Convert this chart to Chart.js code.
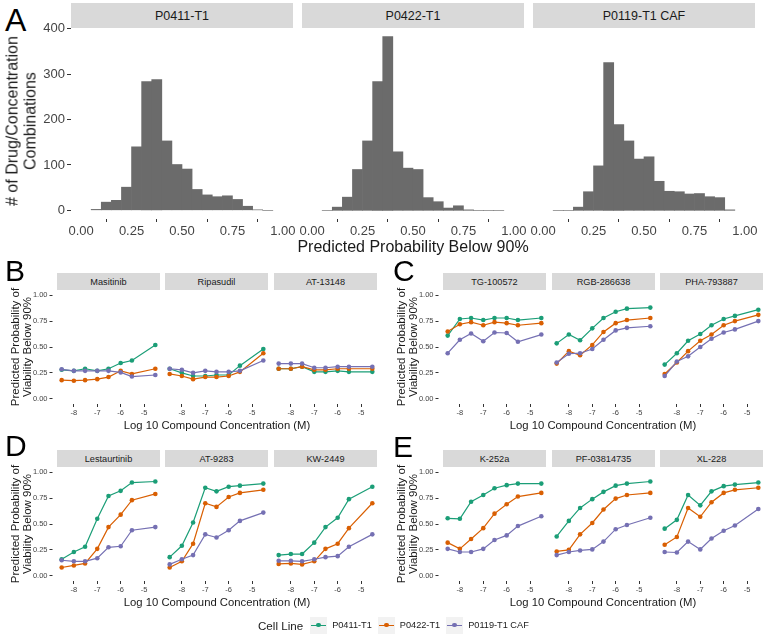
<!DOCTYPE html>
<html>
<head>
<meta charset="utf-8">
<script src="https://cdn.jsdelivr.net/npm/chart.js@4.4.1/dist/chart.umd.min.js"></script>
<style>
  body { margin:0; width:770px; height:639px; background:#fff; position:relative; overflow:hidden;
         font-family:"Liberation Sans", Arial, sans-serif; color:#1a1a1a; }
  .box { position:absolute; }
  .strip { position:absolute; background:#d9d9d9; display:flex; align-items:center; justify-content:center; white-space:nowrap; color:#1a1a1a; }
  .lab { position:absolute; white-space:nowrap; transform:translate(-50%,-50%); }
  .vlab { position:absolute; white-space:nowrap; text-align:center; transform:translate(-50%,-50%) rotate(-90deg); }
  .letter { position:absolute; line-height:1; color:#000; }
  .legend { position:absolute; display:flex; align-items:center; font-size:9.2px; color:#1a1a1a; }
  .key { width:17px; height:17px; background:#f2f2f2; position:relative; margin:0 5px 0 6px; }
  .key i { position:absolute; left:1px; right:1px; top:8px; height:1.2px; }
  .key b { position:absolute; left:6.2px; top:6.2px; width:4.6px; height:4.6px; border-radius:50%; }
</style>
</head>
<body>
<script>
// cell lines and colours
const cellLines = ["P0411-T1", "P0422-T1", "P0119-T1 CAF"];
const lineColors = ["#1B9E77", "#D95F02", "#7570B3"];

// Panel A: histogram bins (0.05 wide) and counts
const binMid = [0.075, 0.125, 0.175, 0.225, 0.275, 0.325, 0.375, 0.425, 0.475,
                0.525, 0.575, 0.625, 0.675, 0.725, 0.775, 0.825, 0.875, 0.925];
const countsP0411 = [2, 18, 22, 51, 140, 284, 288, 153, 101, 91, 46, 34, 30, 32, 24, 9, 1, 0];
const countsP0422 = [0, 7, 29, 90, 153, 284, 383, 129, 93, 90, 28, 19, 5, 10, 1, 0, 0, 0];
const countsP0119 = [0, 0, 7, 41, 98, 326, 189, 153, 113, 118, 64, 42, 41, 36, 37, 30, 28, 1];
const histXTicks = [0, 0.25, 0.5, 0.75, 1];
const histYTicks = [0, 100, 200, 300, 400];

// Panels B-E: log10 concentration and predicted probabilities
const logConc = [-8.52, -8, -7.52, -7, -6.52, -6, -5.52, -4.52];
const concTicks = [-8, -7, -6, -5];
const probTicks = [0, 0.25, 0.5, 0.75, 1];

// rows: P0411-T1, P0422-T1, P0119-T1 CAF
const masitinib = [[0.28, 0.27, 0.29, 0.27, 0.29, 0.345, 0.37, 0.52],
                   [0.18, 0.175, 0.18, 0.19, 0.21, 0.27, 0.24, 0.29],
                   [0.285, 0.27, 0.27, 0.27, 0.27, 0.255, 0.215, 0.23]];
const ripasudil = [[0.29, 0.25, 0.22, 0.22, 0.23, 0.23, 0.32, 0.48],
                   [0.24, 0.22, 0.19, 0.21, 0.21, 0.22, 0.26, 0.44],
                   [0.29, 0.28, 0.25, 0.27, 0.26, 0.26, 0.27, 0.37]];
const at13148 = [[0.29, 0.29, 0.31, 0.26, 0.26, 0.27, 0.26, 0.26],
                 [0.29, 0.29, 0.31, 0.28, 0.28, 0.29, 0.29, 0.29],
                 [0.34, 0.34, 0.34, 0.30, 0.30, 0.31, 0.31, 0.31]];
const tg100572 = [[0.61, 0.77, 0.78, 0.76, 0.78, 0.78, 0.76, 0.78],
                  [0.65, 0.72, 0.74, 0.71, 0.74, 0.73, 0.71, 0.73],
                  [0.44, 0.57, 0.63, 0.555, 0.64, 0.635, 0.55, 0.62]];
const rgb286638 = [[0.535, 0.62, 0.565, 0.68, 0.78, 0.84, 0.87, 0.88],
                   [0.34, 0.46, 0.42, 0.52, 0.645, 0.73, 0.76, 0.78],
                   [0.35, 0.435, 0.44, 0.48, 0.57, 0.66, 0.685, 0.70]];
const pha793887 = [[0.33, 0.44, 0.56, 0.625, 0.71, 0.77, 0.80, 0.86],
                   [0.24, 0.35, 0.46, 0.56, 0.62, 0.71, 0.75, 0.81],
                   [0.22, 0.36, 0.41, 0.50, 0.58, 0.64, 0.67, 0.75]];
const lestaurtinib = [[0.16, 0.23, 0.28, 0.55, 0.77, 0.82, 0.90, 0.91],
                      [0.08, 0.10, 0.12, 0.26, 0.47, 0.59, 0.73, 0.79],
                      [0.15, 0.14, 0.14, 0.17, 0.275, 0.285, 0.44, 0.47]];
const at9283 = [[0.18, 0.29, 0.515, 0.85, 0.815, 0.86, 0.87, 0.89],
                [0.08, 0.14, 0.31, 0.70, 0.665, 0.76, 0.80, 0.83],
                [0.11, 0.16, 0.20, 0.40, 0.37, 0.44, 0.53, 0.61]];
const kw2449 = [[0.20, 0.21, 0.21, 0.32, 0.47, 0.56, 0.74, 0.86],
                [0.115, 0.12, 0.11, 0.14, 0.26, 0.31, 0.46, 0.70],
                [0.145, 0.145, 0.14, 0.16, 0.18, 0.19, 0.28, 0.40]];
const k252a = [[0.555, 0.55, 0.715, 0.78, 0.845, 0.875, 0.89, 0.89],
               [0.32, 0.26, 0.355, 0.46, 0.60, 0.69, 0.765, 0.80],
               [0.26, 0.23, 0.23, 0.26, 0.345, 0.39, 0.48, 0.575]];
const pf03814735 = [[0.38, 0.53, 0.655, 0.74, 0.81, 0.87, 0.89, 0.91],
                    [0.235, 0.25, 0.40, 0.51, 0.64, 0.745, 0.78, 0.80],
                    [0.20, 0.23, 0.245, 0.255, 0.33, 0.45, 0.49, 0.56]];
const xl228 = [[0.455, 0.54, 0.78, 0.68, 0.815, 0.865, 0.88, 0.90],
               [0.30, 0.375, 0.655, 0.57, 0.71, 0.80, 0.83, 0.85],
               [0.23, 0.225, 0.33, 0.255, 0.36, 0.435, 0.485, 0.645]];

const FONT = '"Liberation Sans", Arial, sans-serif';

function addEl(cls, html, css) {
  const d = document.createElement('div');
  d.className = cls;
  d.innerHTML = html;
  d.style.cssText = css;
  document.body.appendChild(d);
  return d;
}

// one facet: chart area at (l,t) size w x h; yw = y axis width (0 = hidden), xh = x axis height
function facet(l, t, w, h, yw, xh, type, datasets, sx, sy) {
  const m = 6;
  const padL = yw || m;
  const W = w + padL + m, H = h + m + xh;
  const wrap = addEl('box', '', `left:${l - padL}px;top:${t - m}px;width:${W}px;height:${H}px`);
  const cv = document.createElement('canvas');
  cv.width = W; cv.height = H;
  wrap.appendChild(cv);
  const tickGrid = (len, dash, off) => ({
    drawOnChartArea: false, tickLength: len, tickColor: '#333', tickWidth: 1,
    tickBorderDash: dash, tickBorderDashOffset: off
  });
  new Chart(cv, {
    type: type,
    data: { datasets: datasets },
    options: {
      responsive: false, animation: false,
      layout: { padding: { left: yw ? 0 : m, right: m, top: m, bottom: 0 } },
      plugins: { legend: { display: false }, tooltip: { enabled: false } },
      scales: {
        x: {
          type: 'linear', min: sx.min, max: sx.max, offset: false,
          border: { display: false },
          grid: tickGrid(sx.tl, [], 0),
          afterBuildTicks: s => { s.ticks = sx.ticks.map(v => ({ value: v })); },
          afterFit: s => { s.height = xh; s.paddingLeft = 0; s.paddingRight = 0; },
          ticks: { autoSkip: false, maxRotation: 0, padding: sx.pad, color: '#444',
                   font: { size: sx.fs, family: FONT }, callback: sx.fmt }
        },
        y: {
          display: yw > 0, min: sy.min, max: sy.max,
          border: { display: false },
          grid: tickGrid(sy.tl, sy.dash, 0),
          afterBuildTicks: s => { s.ticks = sy.ticks.map(v => ({ value: v })); },
          afterFit: s => { s.width = yw; s.paddingTop = 0; s.paddingBottom = 0; },
          ticks: { padding: sy.pad, color: '#444', font: { size: sy.fs, family: FONT }, callback: sy.fmt }
        }
      }
    }
  });
}

// ---------- Panel A ----------
const histFacets = [
  { name: "P0411-T1", counts: countsP0411, left: 71 },
  { name: "P0422-T1", counts: countsP0422, left: 302 },
  { name: "P0119-T1 CAF", counts: countsP0119, left: 533 }
];
const ax = { min: -0.05, max: 1.05, ticks: histXTicks, tl: 3, pad: 2, fs: 13, fmt: v => v.toFixed(2) };
const ay = { min: -19.15, max: 402, ticks: histYTicks, tl: 4, pad: 2, fs: 13, dash: [], fmt: v => String(v) };
histFacets.forEach((f, i) => {
  addEl('strip', f.name, `left:${f.left}px;top:3px;width:222px;height:25px;font-size:12.5px`);
  facet(f.left, 28, 222, 191, i === 0 ? 40 : 0, 22, 'bar', [{
    data: binMid.map((x, k) => ({ x: x, y: f.counts[k] })),
    backgroundColor: '#6b6b6b', borderWidth: 0,
    barPercentage: 1, categoryPercentage: 1
  }], ax, ay);
});
addEl('letter', 'A', 'left:5px;top:4px;font-size:32px');
addEl('vlab', '# of Drug/Concentration<br>Combinations', 'left:21px;top:121px;font-size:16px;line-height:17.5px');
addEl('lab', 'Predicted Probability Below 90%', 'left:413px;top:247px;font-size:16px');

// ---------- Panels B-E ----------
const rows = [
  { letter: 'B', lx: 5, ly: 256, lefts: [57, 165, 274], top: 290, stripTop: 273,
    names: ["Masitinib", "Ripasudil", "AT-13148"], sets: [masitinib, ripasudil, at13148] },
  { letter: 'C', lx: 393, ly: 256, lefts: [443, 552, 660], top: 290, stripTop: 273,
    names: ["TG-100572", "RGB-286638", "PHA-793887"], sets: [tg100572, rgb286638, pha793887] },
  { letter: 'D', lx: 5, ly: 431, lefts: [57, 165, 274], top: 467, stripTop: 450,
    names: ["Lestaurtinib", "AT-9283", "KW-2449"], sets: [lestaurtinib, at9283, kw2449] },
  { letter: 'E', lx: 393, ly: 432, lefts: [443, 552, 660], top: 467, stripTop: 450,
    names: ["K-252a", "PF-03814735", "XL-228"], sets: [k252a, pf03814735, xl228] }
];
const lx = { min: -8.72, max: -4.32, ticks: concTicks, tl: 3, pad: 1.5, fs: 7.5, fmt: v => String(v) };
const ly = { min: -0.05, max: 1.05, ticks: probTicks, tl: 7.5, pad: 2, fs: 7.5, dash: [3, 10], fmt: v => v.toFixed(2) };

rows.forEach(r => {
  r.names.forEach((name, i) => {
    const l = r.lefts[i];
    addEl('strip', name, `left:${l}px;top:${r.stripTop}px;width:103px;height:17px;font-size:9.2px`);
    const ds = r.sets[i].map((vals, k) => ({
      data: logConc.map((x, j) => ({ x: x, y: vals[j] })),
      borderColor: lineColors[k], backgroundColor: lineColors[k],
      borderWidth: 1.2, pointRadius: 2.3, pointBorderWidth: 0, tension: 0,
      order: 2 - k
    }));
    facet(l, r.top, 103, 114, i === 0 ? 35 : 0, 20, 'line', ds, lx, ly);
  });
  const x0 = r.lefts[0], x1 = r.lefts[2] + 103;
  addEl('letter', r.letter, `left:${r.lx}px;top:${r.ly}px;font-size:30px`);
  addEl('vlab', 'Predicted Probability of<br>Viability Below 90%',
        `left:${x0 - 36}px;top:${r.top + 57}px;font-size:11.5px;line-height:12px`);
  addEl('lab', 'Log 10 Compound Concentration (M)',
        `left:${(x0 + x1) / 2}px;top:${r.top + 135}px;font-size:11.3px`);
});

// ---------- Legend ----------
const legend = addEl('legend', '<span style="font-size:11.6px;margin-right:1px">Cell Line</span>', 'left:258px;top:616px;height:18px');
cellLines.forEach((name, k) => {
  legend.insertAdjacentHTML('beforeend',
    `<span class="key"><i style="background:${lineColors[k]}"></i><b style="background:${lineColors[k]}"></b></span><span>${name}</span>`);
});
</script>
</body>
</html>
